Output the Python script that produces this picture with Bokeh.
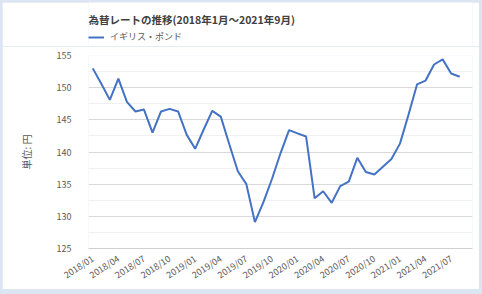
from bokeh.plotting import figure
from bokeh.models import (Range1d, FixedTicker, Label, Legend, LegendItem,
                          SingleIntervalTicker)
from bokeh.layouts import column
from bokeh.embed import file_html
from bokeh.resources import INLINE

# ---- data ----
months = ["2018/01", "2018/02", "2018/03", "2018/04", "2018/05", "2018/06",
          "2018/07", "2018/08", "2018/09", "2018/10", "2018/11", "2018/12",
          "2019/01", "2019/02", "2019/03", "2019/04", "2019/05", "2019/06",
          "2019/07", "2019/08", "2019/09", "2019/10", "2019/11", "2019/12",
          "2020/01", "2020/02", "2020/03", "2020/04", "2020/05", "2020/06",
          "2020/07", "2020/08", "2020/09", "2020/10", "2020/11", "2020/12",
          "2021/01", "2021/02", "2021/03", "2021/04", "2021/05", "2021/06",
          "2021/07", "2021/08", "2021/09"]
gbp_jpy = [153.0, 150.6, 148.1, 151.4, 147.8, 146.3, 146.6, 143.0, 146.3,
           146.7, 146.3, 142.7, 140.5, 143.5, 146.4, 145.5, 141.2, 137.0,
           135.0, 129.1, 132.2, 135.8, 139.8, 143.4, 142.9, 142.4, 132.8,
           133.9, 132.1, 134.7, 135.4, 139.1, 136.9, 136.5, 137.7, 138.9,
           141.3, 145.8, 150.5, 151.1, 153.6, 154.4, 152.2, 151.7]
tick_labels = ["2018/01", "2018/04", "2018/07", "2018/10", "2019/01",
               "2019/04", "2019/07", "2019/10", "2020/01", "2020/04",
               "2020/07", "2020/10", "2021/01", "2021/04", "2021/07"]
series_name = "イギリス・ポンド"
title_text = "為替レートの推移(2018年1月～2021年9月)"
y_label = "単位: 円"

FONT = "Noto Sans CJK JP"
TXT = "#595959"
LINE = "#4472C4"
W = 477
HEAD_H = 44
BORDER_L = 86
BORDER_R = 7
FRAME_W = W - BORDER_L - BORDER_R

x_idx = list(range(len(gbp_jpy)))
tick_pos = [months.index(t) for t in tick_labels]

# ---------- header (title + legend); its frame is aligned with the chart's ----------
h = figure(width=W, height=HEAD_H, output_backend="svg", toolbar_location=None,
           x_range=Range1d(0, FRAME_W), y_range=Range1d(0, HEAD_H),
           x_axis_type=None, y_axis_type=None,
           min_border=0, min_border_left=0, min_border_right=0,
           min_border_top=0, min_border_bottom=0)
h.background_fill_color = "white"
h.border_fill_color = "white"
h.outline_line_color = None

h.add_layout(Label(x=0, y=HEAD_H - 17, text=title_text, text_font=FONT,
                   text_font_size="10.5px", text_font_style="bold",
                   text_color="#404040", text_baseline="middle",
                   text_align="left"))
# same series, lying outside this header's y range: only its legend swatch shows
legend_line = h.line(x=x_idx, y=gbp_jpy, line_color=LINE, line_width=2)
leg = Legend(items=[LegendItem(label=series_name, renderers=[legend_line])],
             location=(0, HEAD_H - 35 - 6), orientation="horizontal",
             padding=0, margin=0, spacing=0, glyph_width=16, glyph_height=12,
             label_height=12, label_standoff=6,
             label_text_font=FONT, label_text_font_size="9px",
             label_text_color=TXT, border_line_color=None,
             background_fill_alpha=0)
h.add_layout(leg, "center")

# ---------- main chart ----------
p = figure(width=W, height=243, output_backend="svg", toolbar_location=None,
           x_range=Range1d(-0.5, len(months) - 0.5), y_range=Range1d(125, 155),
           min_border_left=BORDER_L, min_border_right=BORDER_R,
           min_border_top=9, min_border_bottom=39)
p.background_fill_color = "white"
p.border_fill_color = "white"
p.outline_line_color = None

p.line(x_idx, gbp_jpy, line_color=LINE, line_width=2)

# x axis
p.xaxis.ticker = FixedTicker(ticks=tick_pos)
p.xaxis.major_label_overrides = {i: t for i, t in zip(tick_pos, tick_labels)}
p.xaxis.major_label_orientation = 0.58
p.xaxis.major_tick_line_color = None
p.xaxis.minor_tick_line_color = None
p.xaxis.axis_line_color = "#D0D0D0"
p.xaxis.major_label_standoff = 3
p.xaxis.major_label_text_font = FONT
p.xaxis.major_label_text_font_size = "9px"
p.xaxis.major_label_text_color = TXT
p.xgrid.grid_line_color = None

# y axis
p.yaxis.ticker = SingleIntervalTicker(interval=5, num_minor_ticks=2)
p.yaxis.axis_line_color = None
p.yaxis.major_tick_line_color = None
p.yaxis.minor_tick_line_color = None
p.yaxis.major_label_standoff = 11
p.yaxis.major_label_text_font = FONT
p.yaxis.major_label_text_font_size = "9px"
p.yaxis.major_label_text_color = TXT
p.yaxis.axis_label = y_label
p.yaxis.axis_label_text_font = FONT
p.yaxis.axis_label_text_font_size = "10px"
p.yaxis.axis_label_text_font_style = "normal"
p.yaxis.axis_label_text_color = TXT
p.yaxis.axis_label_standoff = 20
p.ygrid.grid_line_color = "#D9D9D9"
p.ygrid.minor_grid_line_color = "#F0F0F0"

layout = column(h, p, spacing=0,
                styles={"background-color": "#DCE6F2",
                        "padding": "2px 3px 5px 2px"})

open("out.html", "w").write(file_html(layout, INLINE))
